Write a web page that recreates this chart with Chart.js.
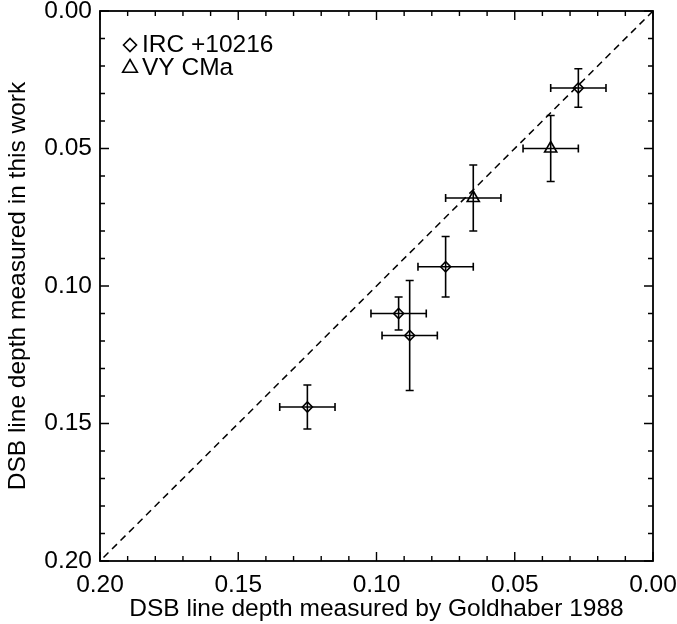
<!DOCTYPE html>
<html>
<head>
<meta charset="utf-8">
<script src="https://cdn.jsdelivr.net/npm/chart.js@4.4.0/dist/chart.umd.min.js"></script>
<style>
  body { margin: 0; background: #fff; }
  #marco { width: 677px; height: 624px; }
</style>
</head>
<body>
<div id="marco"><canvas id="grafica-dsb" width="677" height="624"></canvas></div>
<script>
// Valores
const ircX = [0.027, 0.075, 0.092, 0.088, 0.125];
const ircY = [0.028, 0.093, 0.110, 0.118, 0.144];
const ircXErr = [0.010, 0.010, 0.010, 0.010, 0.010];
const ircYErr = [0.007, 0.011, 0.006, 0.020, 0.008];

const vyX = [0.037, 0.065];
const vyY = [0.050, 0.068];
const vyXErr = [0.010, 0.010];
const vyYErr = [0.012, 0.012];

const diagLine = [0.00, 0.20];
const majorTicks = [0.00, 0.05, 0.10, 0.15, 0.20];
const tickLabels = ['0.00', '0.05', '0.10', '0.15', '0.20'];

const fuente = 'Liberation Sans, Arial, Helvetica, sans-serif';
const tamTexto = 24.5;
const negro = '#000';

const puntos = (xs, ys) => xs.map((x, i) => ({ x: x, y: ys[i] }));

// Barras de error, cajas y ticks hacia dentro (estilo IDL)
const marcos = {
  id: 'marcos',
  beforeDatasetsDraw(chart) {
    const ctx = chart.ctx;
    const sx = chart.scales.x, sy = chart.scales.y;
    const cap = 4;
    ctx.save();
    ctx.strokeStyle = negro;
    ctx.lineWidth = 1.6;
    chart.data.datasets.forEach(ds => {
      if (!ds.xErr) return;
      ds.data.forEach((p, i) => {
        const px = sx.getPixelForValue(p.x), py = sy.getPixelForValue(p.y);
        const x1 = sx.getPixelForValue(p.x - ds.xErr[i]);
        const x2 = sx.getPixelForValue(p.x + ds.xErr[i]);
        const y1 = sy.getPixelForValue(p.y - ds.yErr[i]);
        const y2 = sy.getPixelForValue(p.y + ds.yErr[i]);
        ctx.beginPath();
        ctx.moveTo(x1, py); ctx.lineTo(x2, py);
        ctx.moveTo(x1, py - cap); ctx.lineTo(x1, py + cap);
        ctx.moveTo(x2, py - cap); ctx.lineTo(x2, py + cap);
        ctx.moveTo(px, y1); ctx.lineTo(px, y2);
        ctx.moveTo(px - cap, y1); ctx.lineTo(px + cap, y1);
        ctx.moveTo(px - cap, y2); ctx.lineTo(px + cap, y2);
        ctx.stroke();
      });
    });
    ctx.restore();
  },
  afterDraw(chart) {
    const ctx = chart.ctx;
    const a = chart.chartArea;
    const sx = chart.scales.x, sy = chart.scales.y;
    ctx.save();
    ctx.strokeStyle = negro;
    ctx.lineWidth = 1.8;
    ctx.strokeRect(a.left, a.top, a.right - a.left, a.bottom - a.top);
    ctx.lineWidth = 1.4;
    ctx.beginPath();
    for (let k = 0; k <= 20; k++) {
      const v = k / 100;
      const len = (k % 5 === 0) ? 9 : 5;
      const px = sx.getPixelForValue(v);
      ctx.moveTo(px, a.bottom); ctx.lineTo(px, a.bottom - len);
      ctx.moveTo(px, a.top); ctx.lineTo(px, a.top + len);
      const py = sy.getPixelForValue(v);
      ctx.moveTo(a.left, py); ctx.lineTo(a.left + len, py);
      ctx.moveTo(a.right, py); ctx.lineTo(a.right - len, py);
    }
    ctx.stroke();

    // leyenda dentro del area
    const items = chart.data.datasets.filter(ds => ds.enLeyenda);
    ctx.font = tamTexto + 'px ' + fuente;
    ctx.textBaseline = 'middle';
    items.forEach((ds, i) => {
      const yy = a.top + 34 + i * 23;
      ctx.lineWidth = 1.6;
      ctx.fillStyle = 'rgba(0,0,0,0)';
      Chart.helpers.drawPoint(ctx, {
        pointStyle: ds.pointStyle,
        radius: ds.pointRadius + 1.5,
        rotation: 0,
        borderWidth: 1.6
      }, a.left + 30, yy);
      ctx.fillStyle = negro;
      ctx.fillText(ds.label, a.left + 42, yy);
    });
    ctx.restore();
  }
};

const datos = {
  datasets: [
    {
      label: 'IRC +10216',
      data: puntos(ircX, ircY),
      xErr: ircXErr,
      yErr: ircYErr,
      enLeyenda: true,
      pointStyle: 'rectRot',
      pointRadius: 5,
      borderColor: negro,
      backgroundColor: 'rgba(0,0,0,0)',
      borderWidth: 1.6
    },
    {
      label: 'VY CMa',
      data: puntos(vyX, vyY),
      xErr: vyXErr,
      yErr: vyYErr,
      enLeyenda: true,
      pointStyle: 'triangle',
      pointRadius: 7,
      borderColor: negro,
      backgroundColor: 'rgba(0,0,0,0)',
      borderWidth: 1.6
    },
    {
      type: 'line',
      label: '1:1',
      data: puntos(diagLine, diagLine),
      borderColor: negro,
      borderWidth: 1.5,
      borderDash: [7, 5],
      pointRadius: 0,
      fill: false
    }
  ]
};

const ejeBase = {
  type: 'linear',
  min: 0,
  max: 0.2,
  reverse: true,
  afterBuildTicks: scale => { scale.ticks = majorTicks.map(v => ({ value: v })); },
  grid: { display: false, drawTicks: false },
  border: { display: false },
  ticks: {
    color: negro,
    font: { family: fuente, size: tamTexto },
    callback: (v) => tickLabels[Math.round(v / 0.05)]
  }
};

const opciones = {
  responsive: false,
  animation: false,
  layout: { padding: { top: 11, right: 24, left: 0, bottom: 0 } },
  plugins: {
    legend: { display: false },
    tooltip: { enabled: false }
  },
  scales: {
    x: Object.assign({}, ejeBase, {
      position: 'bottom',
      ticks: Object.assign({}, ejeBase.ticks, { padding: 10, maxRotation: 0 }),
      title: {
        display: true,
        text: 'DSB line depth measured by Goldhaber 1988',
        color: negro,
        font: { family: fuente, size: tamTexto },
        padding: { top: 0, bottom: 0 }
      },
      afterFit: s => { s.height = 63; s.paddingLeft = 0; s.paddingRight = 0; }
    }),
    y: Object.assign({}, ejeBase, {
      position: 'left',
      ticks: Object.assign({}, ejeBase.ticks, { padding: 8 }),
      title: {
        display: true,
        text: 'DSB line depth measured in this work',
        color: negro,
        font: { family: fuente, size: tamTexto },
        padding: { top: 4, bottom: 0 }
      },
      afterFit: s => { s.width = 100; s.paddingTop = 0; s.paddingBottom = 0; }
    })
  }
};

const grafica = new Chart(document.getElementById('grafica-dsb'), {
  type: 'scatter',
  data: datos,
  options: opciones,
  plugins: [marcos]
});
</script>
</body>
</html>
